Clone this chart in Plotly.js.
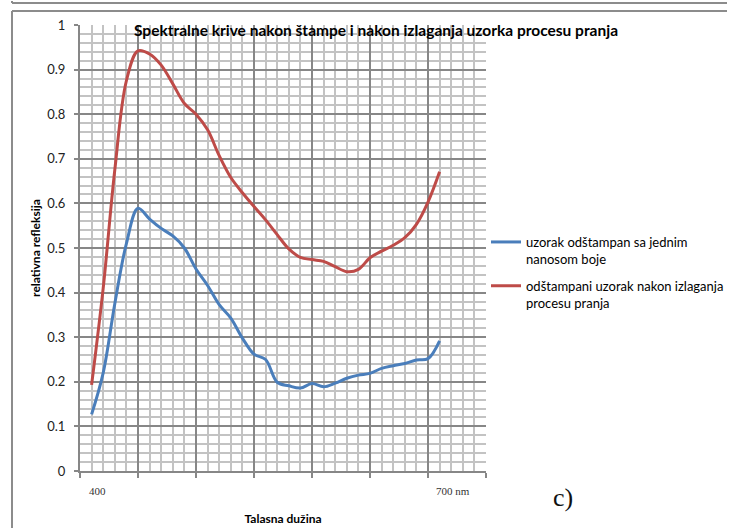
<!DOCTYPE html>
<html>
<head>
<meta charset="utf-8">
<script src="https://cdn.plot.ly/plotly-3.0.1.min.js"></script>
<style>
  html, body { margin: 0; padding: 0; background: #ffffff; overflow: hidden; width: 729px; height: 530px; }
  #chart { width: 729px; height: 530px; overflow: hidden; }
</style>
</head>
<body>
<div id="chart"></div>
<script>
// Wavelength (nm)
const wavelengths = [400, 410, 420, 430, 440, 450, 460, 470, 480, 490, 500,
                     510, 520, 530, 540, 550, 560, 570, 580, 590, 600,
                     610, 620, 630, 640, 650, 660, 670, 680, 690, 700];
// uzorak odštampan sa jednim nanosom boje
const blueValues = [0.127, 0.22, 0.375, 0.51, 0.589, 0.565, 0.544, 0.527, 0.50, 0.453, 0.416,
                    0.373, 0.343, 0.298, 0.262, 0.25, 0.199, 0.191, 0.186, 0.196, 0.189,
                    0.197, 0.208, 0.215, 0.219, 0.23, 0.236, 0.241, 0.249, 0.252, 0.292];
// odštampani uzorak nakon izlaganja procesu pranja
const redValues = [0.193, 0.41, 0.675, 0.875, 0.942, 0.935, 0.91, 0.868, 0.824, 0.80, 0.765,
                   0.707, 0.658, 0.624, 0.593, 0.563, 0.53, 0.498, 0.479, 0.474, 0.47,
                   0.458, 0.447, 0.452, 0.478, 0.493, 0.506, 0.523, 0.553, 0.603, 0.671];
const seriesNames = ["uzorak odštampan sa jednim<br>nanosom boje",
                     "odštampani uzorak nakon izlaganja<br>procesu pranja"];
const yTickVals = [0, 0.1, 0.2, 0.3, 0.4, 0.5, 0.6, 0.7, 0.8, 0.9, 1];
const yTickText = ["0", "0.1", "0.2", "0.3", "0.4", "0.5", "0.6", "0.7", "0.8", "0.9", "1"];
const chartTitle = "Spektralne krive nakon štampe i nakon izlaganja uzorka procesu pranja";
const xTitle = "Talasna dužina";
const yTitle = "relativna refleksija";
const startLabel = "400";
const endLabel = "700 nm";
const panelLabel = "c)";

const FONT = "Lato, 'Open Sans', 'Liberation Sans', sans-serif";
const SERIF = "'Liberation Serif', 'DejaVu Serif', serif";

// pixel helpers for paper coords (plot area 80..486 x, 25..471 y)
const W = 729, H = 530;
const L = 80, R = 486, T = 25, B = 471;
const px = v => (v - L) / (R - L);
const py = v => (B - v) / (B - T);

const traces = [
  { x: wavelengths, y: blueValues, type: 'scatter', mode: 'lines', name: seriesNames[0],
    legendgroup: 'a', line: { color: '#4A7EBB', width: 3, shape: 'spline', smoothing: 1 } },
  { x: wavelengths, y: redValues, type: 'scatter', mode: 'lines', name: seriesNames[1],
    legendgroup: 'b', line: { color: '#BE4B48', width: 3, shape: 'spline', smoothing: 1 } }
];

const frameColor = '#8c8c8c';
const layout = {
  width: W, height: H,
  margin: { l: L, r: W - R, t: T, b: H - B, pad: 0, autoexpand: false },
  paper_bgcolor: '#ffffff', plot_bgcolor: '#ffffff',
  font: { family: FONT, size: 13, color: '#000000' },
  title: { text: '<b>' + chartTitle + '</b>', font: { family: FONT, size: 15.5, color: '#000' },
           xref: 'container', x: 376 / W, xanchor: 'center',
           yref: 'container', y: 1 - 31 / H, yanchor: 'middle' },
  xaxis: {
    range: [390, 740], tick0: 390, dtick: 50, showticklabels: false,
    ticks: 'outside', ticklen: 5, tickwidth: 2, tickcolor: '#878787',
    showgrid: true, gridcolor: '#878787', gridwidth: 2,
    minor: { tick0: 390, dtick: 10, showgrid: true, gridcolor: '#c3c3c3', gridwidth: 2, ticks: '' },
    showline: true, linecolor: '#878787', linewidth: 2, mirror: false, zeroline: false,
    fixedrange: true,
    title: { text: '<b>' + xTitle + '</b>', font: { family: FONT, size: 12, color: '#000' }, standoff: 38 },
    automargin: false
  },
  yaxis: {
    range: [0, 1], tickmode: 'array', tickvals: yTickVals, ticktext: yTickText,
    ticks: 'outside', ticklen: 4, tickwidth: 2, tickcolor: '#878787',
    tickfont: { family: FONT, size: 13, color: '#222' }, ticklabelstandoff: 6,
    showgrid: true, gridcolor: '#878787', gridwidth: 2,
    minor: { tick0: 0, dtick: 0.02, showgrid: true, gridcolor: '#c3c3c3', gridwidth: 2, ticks: '' },
    showline: true, linecolor: '#878787', linewidth: 2, zeroline: false,
    fixedrange: true,
    title: { text: '<b>' + yTitle + '</b>', font: { family: FONT, size: 12, color: '#000' }, standoff: 4 },
    automargin: false
  },
  showlegend: true,
  legend: {
    xref: 'container', yref: 'container',
    x: 486 / W, xanchor: 'left', y: 1 - 227 / H, yanchor: 'top',
    bgcolor: 'rgba(0,0,0,0)', borderwidth: 0, valign: 'top',
    font: { family: FONT, size: 13, color: '#000' },
    tracegroupgap: 7, itemwidth: 30
  },
  annotations: [
    { text: startLabel, xref: 'paper', yref: 'paper', x: px(97), y: py(491), showarrow: false,
      xanchor: 'center', yanchor: 'middle', font: { family: SERIF, size: 11, color: '#333' } },
    { text: endLabel, xref: 'paper', yref: 'paper', x: px(453), y: py(491), showarrow: false,
      xanchor: 'center', yanchor: 'middle', font: { family: SERIF, size: 11, color: '#333' } },
    { text: panelLabel, xref: 'paper', yref: 'paper', x: px(563), y: py(497), showarrow: false,
      xanchor: 'center', yanchor: 'middle', font: { family: SERIF, size: 26, color: '#111' } }
  ],
  shapes: [
    { type: 'line', xref: 'paper', yref: 'paper', x0: px(12), x1: px(727), y0: py(11), y1: py(11),
      line: { color: frameColor, width: 2 } },
    { type: 'line', xref: 'paper', yref: 'paper', x0: px(12), x1: px(12), y0: py(11), y1: py(528),
      line: { color: frameColor, width: 2 } },
    { type: 'line', xref: 'paper', yref: 'paper', x0: px(12), x1: px(727), y0: py(3), y1: py(3),
      line: { color: frameColor, width: 2 } },
    { type: 'line', xref: 'paper', yref: 'paper', x0: px(12), x1: px(12), y0: py(3), y1: py(1),
      line: { color: frameColor, width: 2 } }
  ]
};

Plotly.newPlot('chart', traces, layout, { staticPlot: true, displayModeBar: false });
</script>
</body>
</html>
